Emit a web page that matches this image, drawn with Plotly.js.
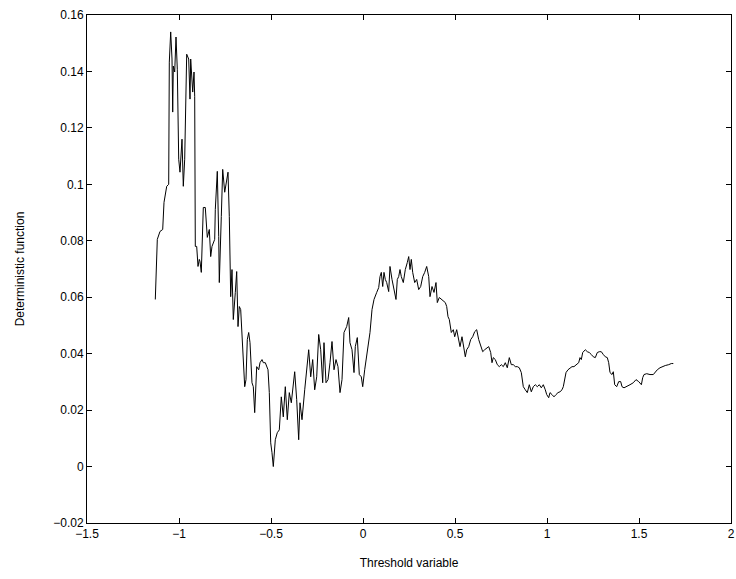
<!DOCTYPE html>
<html>
<head>
<meta charset="utf-8">
<script src="https://cdn.plot.ly/plotly-3.0.1.min.js"></script>
<style>html,body{margin:0;padding:0;background:#fff;}#chart{width:736px;height:579px;}</style>
</head>
<body>
<div id="chart"></div>
<script>
var thresholdX = [
-1.1288,-1.1179,-1.1033,-1.0886,-1.0815,-1.0745,-1.0668,-1.0560,-1.0527,-1.0451,
-1.0380,-1.0342,-1.0310,-1.0234,-1.0163,-1.0092,-1.0016,-0.9946,-0.9837,-0.9766,
-0.9690,-0.9582,-0.9473,-0.9402,-0.9364,-0.9255,-0.9185,-0.9147,-0.9114,-0.9038,
-0.8967,-0.8897,-0.8859,-0.8788,-0.8750,-0.8679,-0.8571,-0.8462,-0.8353,-0.8277,
-0.8207,-0.8060,-0.8027,-0.7918,-0.7842,-0.7810,-0.7701,-0.7625,-0.7516,-0.7408,
-0.7337,-0.7266,-0.7190,-0.7120,-0.7049,-0.6940,-0.6864,-0.6793,-0.6723,-0.6647,
-0.6576,-0.6505,-0.6429,-0.6359,-0.6288,-0.6212,-0.6141,-0.6033,-0.5962,-0.5886,
-0.5777,-0.5668,-0.5598,-0.5489,-0.5418,-0.5310,-0.5163,-0.5092,-0.5016,-0.4946,
-0.4875,-0.4766,-0.4658,-0.4549,-0.4440,-0.4332,-0.4223,-0.4114,-0.4005,-0.3897,
-0.3788,-0.3712,-0.3603,-0.3495,-0.3424,-0.3315,-0.3168,-0.3060,-0.2951,-0.2842,
-0.2734,-0.2625,-0.2516,-0.2408,-0.2299,-0.2190,-0.2120,-0.2011,-0.1902,-0.1793,
-0.1685,-0.1576,-0.1467,-0.1359,-0.1250,-0.1141,-0.1033,-0.0886,-0.0777,-0.0707,
-0.0598,-0.0489,-0.0418,-0.0310,-0.0201,-0.0092,-0.0016,0.0092,0.0201,0.0310,
0.0380,0.0489,0.0598,0.0745,0.0853,0.0924,0.0995,0.1071,0.1141,0.1212,
0.1288,0.1397,0.1467,0.1576,0.1685,0.1793,0.1864,0.1940,0.2011,0.2082,
0.2190,0.2299,0.2408,0.2484,0.2554,0.2625,0.2701,0.2810,0.2918,0.3027,
0.3136,0.3245,0.3353,0.3462,0.3571,0.3641,0.3750,0.3859,0.3967,0.4038,
0.4147,0.4255,0.4364,0.4473,0.4549,0.4620,0.4690,0.4799,0.4908,0.4984,
0.5092,0.5201,0.5272,0.5380,0.5489,0.5560,0.5636,0.5745,0.5853,0.5962,
0.6071,0.6179,0.6288,0.6397,0.6505,0.6614,0.6723,0.6832,0.6940,0.7011,
0.7082,0.7190,0.7299,0.7408,0.7516,0.7625,0.7734,0.7842,0.7951,0.8060,
0.8168,0.8277,0.8386,0.8495,0.8603,0.8712,0.8821,0.8929,0.9038,0.9147,
0.9255,0.9364,0.9473,0.9582,0.9690,0.9799,0.9908,0.9984,1.0092,1.0163,
1.0272,1.0380,1.0489,1.0598,1.0707,1.0815,1.0886,1.0962,1.1033,1.1141,
1.1250,1.1359,1.1467,1.1614,1.1723,1.1793,1.1864,1.1940,1.2082,1.2190,
1.2299,1.2408,1.2516,1.2625,1.2734,1.2842,1.2951,1.3060,1.3168,1.3277,
1.3353,1.3424,1.3533,1.3603,1.3679,1.3788,1.3897,1.4005,1.4076,1.4185,
1.4332,1.4511,1.4690,1.4837,1.4984,1.5130,1.5201,1.5272,1.5418,1.5598,
1.5777,1.5886,1.5995,1.6141,1.6250,1.6429,1.6614,1.6755,1.6864
];
var deterministicY = [
0.0592,0.0805,0.0833,0.0840,0.0936,0.0972,0.0993,0.1000,0.1433,0.1540,
0.1444,0.1256,0.1419,0.1398,0.1522,0.1408,0.1089,0.1043,0.1160,0.0993,
0.1089,0.1461,0.1444,0.1302,0.1444,0.1327,0.1398,0.1312,0.0780,0.0780,
0.0709,0.0734,0.0727,0.0688,0.0770,0.0918,0.0918,0.0812,0.0840,0.0744,
0.0780,0.0805,0.0911,0.1046,0.0815,0.0652,0.0886,0.1053,0.0972,0.1007,
0.1043,0.0886,0.0602,0.0698,0.0521,0.0617,0.0691,0.0496,0.0567,0.0556,
0.0478,0.0368,0.0283,0.0308,0.0450,0.0475,0.0439,0.0297,0.0283,0.0191,
0.0354,0.0343,0.0368,0.0379,0.0368,0.0368,0.0343,0.0262,0.0084,0.0049,
0.0000,0.0095,0.0120,0.0130,0.0247,0.0176,0.0283,0.0166,0.0262,0.0226,
0.0297,0.0336,0.0237,0.0095,0.0226,0.0166,0.0272,0.0354,0.0414,0.0318,
0.0379,0.0272,0.0318,0.0468,0.0414,0.0297,0.0439,0.0297,0.0308,0.0368,
0.0443,0.0343,0.0379,0.0354,0.0262,0.0308,0.0475,0.0496,0.0528,0.0439,
0.0414,0.0333,0.0425,0.0457,0.0326,0.0318,0.0283,0.0343,0.0397,0.0439,
0.0475,0.0556,0.0592,0.0617,0.0634,0.0673,0.0688,0.0638,0.0688,0.0663,
0.0652,0.0620,0.0709,0.0663,0.0627,0.0592,0.0663,0.0673,0.0698,0.0673,
0.0652,0.0698,0.0723,0.0744,0.0698,0.0734,0.0688,0.0652,0.0663,0.0627,
0.0638,0.0673,0.0688,0.0709,0.0673,0.0602,0.0638,0.0617,0.0652,0.0581,
0.0599,0.0592,0.0585,0.0581,0.0567,0.0531,0.0521,0.0475,0.0485,0.0460,
0.0485,0.0450,0.0425,0.0460,0.0414,0.0389,0.0414,0.0425,0.0450,0.0460,
0.0478,0.0485,0.0450,0.0425,0.0407,0.0414,0.0421,0.0425,0.0404,0.0368,
0.0386,0.0379,0.0361,0.0354,0.0361,0.0354,0.0368,0.0350,0.0386,0.0361,
0.0361,0.0354,0.0354,0.0350,0.0333,0.0283,0.0272,0.0262,0.0290,0.0265,
0.0283,0.0290,0.0283,0.0290,0.0279,0.0290,0.0272,0.0255,0.0244,0.0262,
0.0255,0.0247,0.0255,0.0262,0.0265,0.0272,0.0283,0.0318,0.0333,0.0343,
0.0350,0.0354,0.0354,0.0361,0.0368,0.0386,0.0379,0.0404,0.0414,0.0407,
0.0404,0.0397,0.0389,0.0386,0.0404,0.0407,0.0407,0.0397,0.0389,0.0386,
0.0368,0.0333,0.0326,0.0336,0.0290,0.0283,0.0301,0.0301,0.0283,0.0279,
0.0283,0.0290,0.0297,0.0308,0.0301,0.0290,0.0315,0.0326,0.0329,0.0326,
0.0326,0.0336,0.0343,0.0350,0.0354,0.0358,0.0361,0.0365,0.0365
];
var xTickVals = [-1.5,-1,-0.5,0,0.5,1,1.5,2];
var yTickVals = [-0.02,0,0.02,0.04,0.06,0.08,0.1,0.12,0.14,0.16];

var font = {family: 'Liberation Sans, Arial, Helvetica, sans-serif', size: 12, color: '#000'};
var trace = {
  x: thresholdX, y: deterministicY, type: 'scatter', mode: 'lines',
  line: {color: '#000', width: 1}, hoverinfo: 'skip'
};
var axisCommon = {
  showgrid: false, zeroline: false, showline: true, linecolor: '#000', linewidth: 1,
  mirror: 'allticks', ticks: 'inside', ticklen: 5, tickwidth: 1, tickcolor: '#000',
  tickfont: font
};
var layout = {
  width: 736, height: 579,
  margin: {l: 87, r: 5, t: 15, b: 56},
  paper_bgcolor: '#fff', plot_bgcolor: '#fff',
  showlegend: false, font: font,
  xaxis: Object.assign({}, axisCommon, {
    range: [-1.5, 2], tickmode: 'array', tickvals: xTickVals,
    title: {text: 'Threshold variable', font: font, standoff: 18}
  }),
  yaxis: Object.assign({}, axisCommon, {
    range: [-0.02, 0.16], tickmode: 'array', tickvals: yTickVals,
    title: {text: 'Deterministic function', font: font, standoff: 26}
  })
};
Plotly.newPlot('chart', [trace], layout, {displayModeBar: false, staticPlot: true});
</script>
</body>
</html>
